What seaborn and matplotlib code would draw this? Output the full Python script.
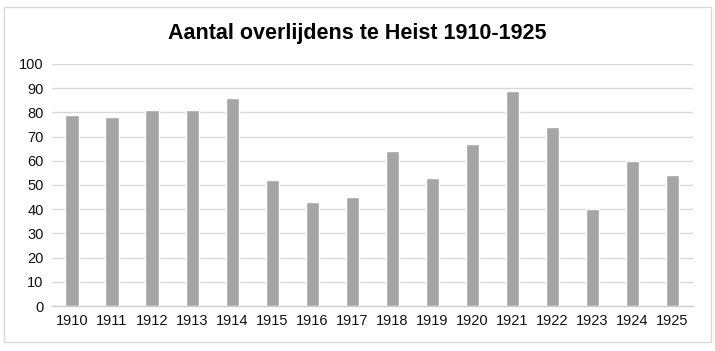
import pandas as pd
import matplotlib
matplotlib.use('Agg')
import matplotlib.pyplot as plt
import seaborn as sns
from matplotlib.patches import Rectangle

# Data
jaren = ['1910', '1911', '1912', '1913', '1914', '1915', '1916', '1917',
         '1918', '1919', '1920', '1921', '1922', '1923', '1924', '1925']
overlijdens = [79, 78, 81, 81, 86, 52, 43, 45, 64, 53, 67, 89, 74, 40, 60, 54]

df = pd.DataFrame({'jaar': jaren, 'aantal': overlijdens})

sns.set_style('white')
plt.rcParams['font.family'] = ['Liberation Sans', 'DejaVu Sans']

fig = plt.figure(figsize=(7.15, 3.51), dpi=100)
ax = fig.add_axes([0.0727, 0.128, 0.896, 0.690])

sns.barplot(data=df, x='jaar', y='aantal', color='#A5A5A5', width=0.33,
            saturation=1, ax=ax, zorder=3)

ax.set_ylim(0, 100)
ax.set_xlim(-0.5, len(jaren) - 0.5)
ax.set_yticks(range(0, 101, 10))
ax.yaxis.grid(True, color='#D9D9D9', linewidth=1, zorder=0)
ax.set_axisbelow(True)
for s in ['top', 'right', 'left']:
    ax.spines[s].set_visible(False)
ax.spines['bottom'].set_color('#D0D0D0')
ax.spines['bottom'].set_linewidth(1)
ax.tick_params(axis='both', length=0, labelsize=10.5, labelcolor='#111111', pad=6)
ax.set_xlabel('')
ax.set_ylabel('')

fig.text(0.5, 0.905, 'Aantal overlijdens te Heist 1910-1925', ha='center', va='center',
         fontsize=15.5, fontweight='bold', color='#000000')

# chart border
fig.patches.append(Rectangle((0.005, 0.025), 0.99, 0.955, transform=fig.transFigure,
                             fill=False, edgecolor='#D9D9D9', linewidth=1))

plt.savefig('out.png', dpi=100)
